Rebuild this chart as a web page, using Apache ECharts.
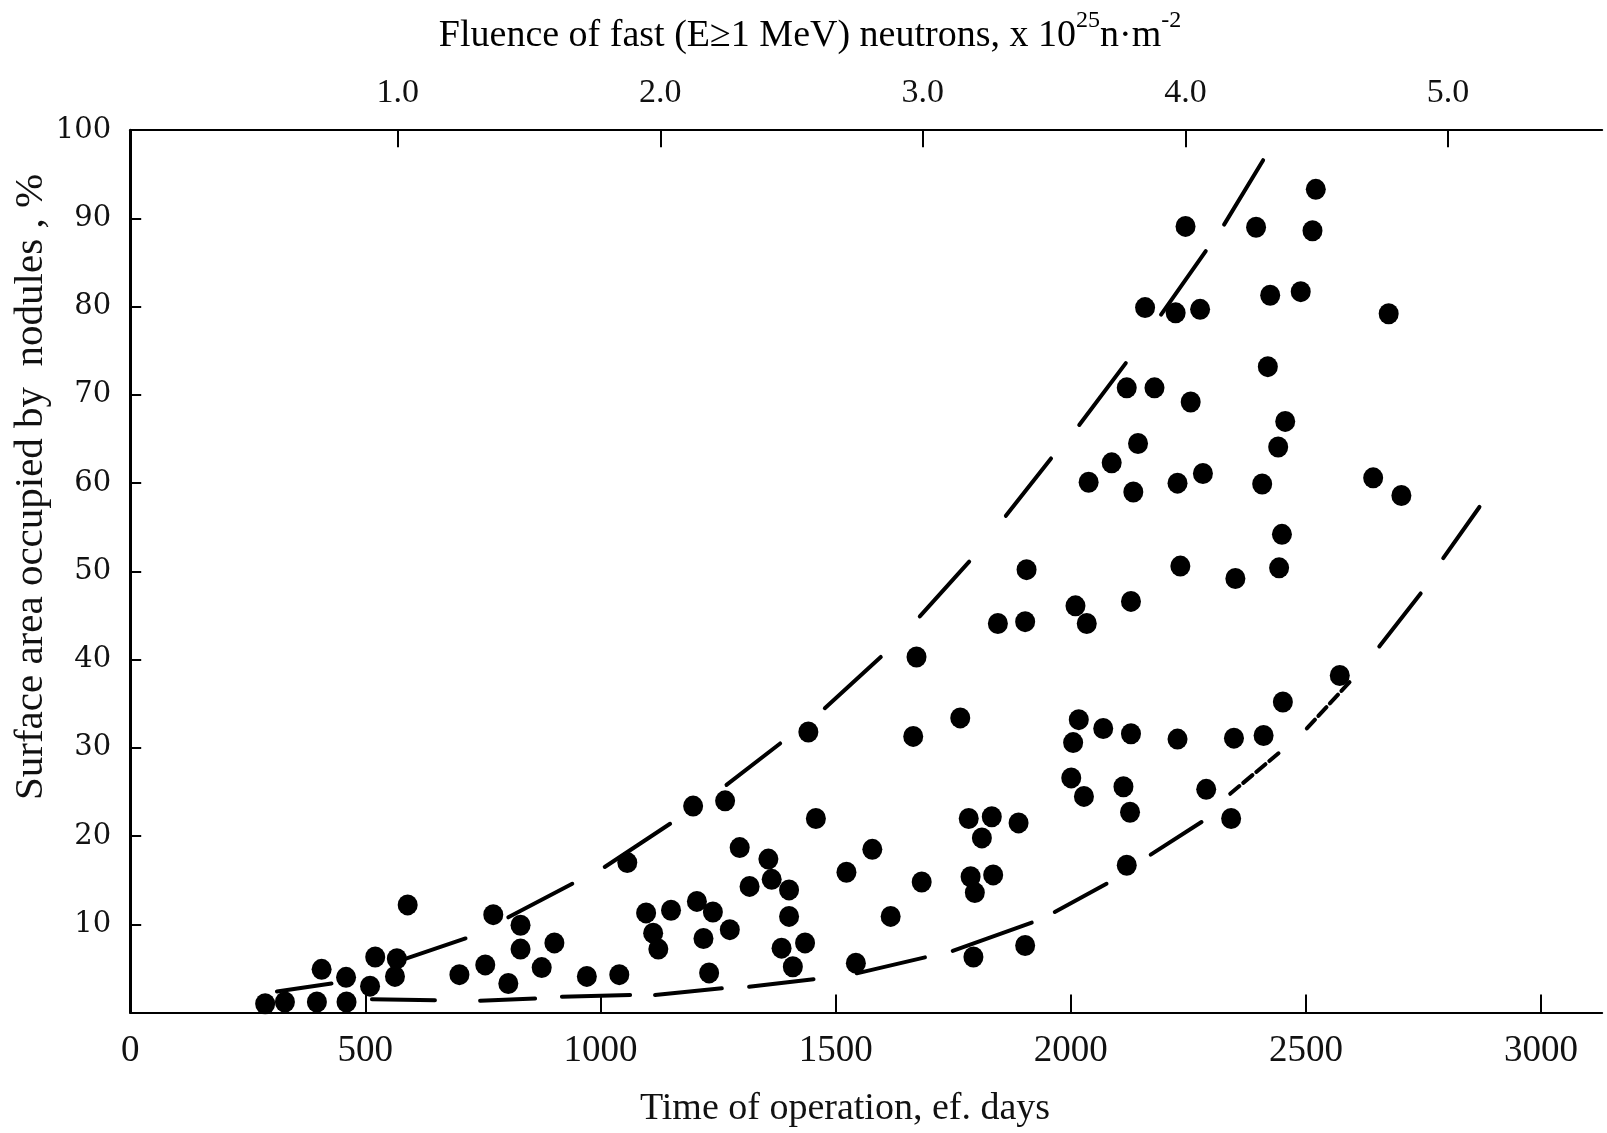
<!DOCTYPE html>
<html>
<head>
<meta charset="utf-8">
<script src="https://cdn.jsdelivr.net/npm/echarts@6/dist/echarts.min.js"></script>
<style>
  html, body { margin: 0; padding: 0; background: #ffffff; }
  #chart { width: 1607px; height: 1133px; }
</style>
</head>
<body>
<div id="chart"></div>
<script>
// Surface area occupied by nodules vs. effective days of operation
// (top scale: fast-neutron fluence).

const dayTicks = [0, 500, 1000, 1500, 2000, 2500, 3000];
const fluenceTicks = [1, 2, 3, 4, 5];
const coverageTicks = [10, 20, 30, 40, 50, 60, 70, 80, 90, 100];

// Measured points: effective days and nodule coverage, %
const opDays = [
  287, 329, 397, 407, 459, 460, 510, 521, 563, 567, 590,
  700, 755, 772, 804, 830, 830, 875, 902, 971, 1040,
  1057, 1097, 1112, 1123, 1150, 1197, 1205, 1219, 1231, 1239, 1265, 1275,
  1296, 1317, 1357, 1364, 1385, 1401, 1401, 1409, 1435, 1442, 1458,
  1523, 1543, 1578, 1617, 1665, 1672, 1683, 1765, 1783, 1787, 1796, 1793,
  1811, 1832, 1835, 1845, 1889, 1903, 1903, 1906,
  2001, 2005, 2010, 2017, 2028, 2034, 2038, 2069, 2087, 2112, 2119, 2119,
  2126, 2128, 2128, 2133, 2143, 2158, 2178, 2223, 2227, 2227, 2233, 2244,
  2255, 2275, 2281, 2288, 2341, 2347, 2350, 2394, 2407, 2410, 2419, 2424,
  2441, 2443, 2449, 2451, 2456, 2489, 2514, 2521, 2572, 2643, 2676, 2703
];
const nodulePct = [
  1.0, 1.2, 1.2, 4.9, 4.0, 1.2, 3.0, 6.3, 4.1, 6.1, 12.2,
  4.3, 5.4, 11.1, 3.3, 9.9, 7.2, 5.1, 7.9, 4.1, 4.3,
  17.0, 11.3, 9.0, 7.2, 11.6, 23.4, 12.6, 8.4, 4.5, 11.4, 24.0, 9.4,
  18.7, 14.3, 17.4, 15.1, 7.3, 13.9, 10.9, 5.2, 7.9, 31.8, 22.0,
  15.9, 5.6, 18.5, 10.9, 31.3, 40.3, 14.8, 33.4, 22.0, 15.4, 13.6, 6.3,
  19.8, 22.2, 15.6, 44.1, 21.5, 7.6, 44.3, 50.2,
  26.6, 30.6, 46.1, 33.2, 24.5, 44.1, 60.1, 32.2, 62.3, 25.6, 70.8, 16.7,
  22.7, 31.6, 46.6, 59.0, 64.5, 79.9, 70.8, 79.3, 31.0, 60.0, 50.6, 89.1,
  69.2, 79.7, 61.1, 25.3, 22.0, 31.1, 49.2, 89.0, 59.9, 31.4, 73.2, 81.3,
  64.1, 50.4, 54.2, 35.2, 67.0, 81.7, 88.6, 93.3, 38.2, 60.6, 79.2, 58.6
];

// Envelope curves, drawn as long dashes: [dayStart, pctStart, dayEnd, pctEnd]
const upperDashes = [
  [312, 2.4, 428, 3.3], [580, 6.0, 713, 8.4], [804, 10.8, 940, 14.6],
  [1009, 16.5, 1148, 21.4], [1268, 25.8, 1382, 30.5], [1477, 34.5, 1596, 40.3],
  [1679, 44.9, 1784, 51.1], [1862, 56.3, 1958, 62.8], [2018, 66.6, 2117, 73.6],
  [2192, 79.1, 2287, 86.3], [2326, 89.3, 2409, 96.6]
];
const lowerDashes = [
  [514, 1.5, 648, 1.4], [744, 1.35, 861, 1.6], [918, 1.8, 1063, 2.0],
  [1116, 2.0, 1258, 2.75], [1316, 2.93, 1453, 3.77], [1545, 4.45, 1690, 6.26],
  [1749, 7.0, 1917, 10.2], [1966, 11.4, 2076, 14.6], [2170, 17.9, 2278, 21.6],
  [2656, 41.5, 2744, 47.5], [2792, 51.5, 2869, 57.3]
];
// the two pieces of the lower curve that are printed as broken strokes
const lowerBrokenDashes = [
  [2339, 24.8, 2442, 29.4], [2502, 32.2, 2597, 37.7]
];

const serif = 'Liberation Serif';
const ink = '#111111';

function dashSeries(seg, lineType, width) {
  return {
    type: 'line',
    xAxisIndex: 0,
    yAxisIndex: 0,
    data: [[seg[0], seg[1]], [seg[2], seg[3]]],
    symbol: 'none',
    silent: true,
    animation: false,
    z: 2,
    lineStyle: { color: '#000', width: width, type: lineType, cap: 'round', opacity: 1 }
  };
}

const series = [];
upperDashes.forEach(s => series.push(dashSeries(s, 'solid', 4)));
lowerDashes.forEach(s => series.push(dashSeries(s, 'solid', 4)));
lowerBrokenDashes.forEach(s => series.push(dashSeries(s, [12, 5], 4)));
series.push({
  type: 'scatter',
  xAxisIndex: 0,
  yAxisIndex: 0,
  data: opDays.map((d, i) => [d, nodulePct[i]]),
  symbol: 'circle',
  symbolSize: [20, 21],
  itemStyle: { color: '#000', opacity: 1 },
  silent: true,
  animation: false,
  z: 3
});

const chart = echarts.init(document.getElementById('chart'), null, { renderer: 'canvas' });
chart.setOption({
  backgroundColor: '#ffffff',
  animation: false,
  grid: { left: 130.2, right: 4.8, top: 130.2, bottom: 120.4, containLabel: false },
  xAxis: [
    {
      type: 'value',
      position: 'bottom',
      min: 0,
      max: 3130,
      axisLine: { show: true, onZero: false, lineStyle: { color: '#000', width: 2 } },
      axisTick: {
        show: true, inside: true, length: 18,
        customValues: dayTicks.slice(1),
        lineStyle: { color: '#000', width: 2 }
      },
      axisLabel: {
        customValues: dayTicks,
        formatter: v => String(v),
        margin: 20,
        fontFamily: serif,
        fontSize: 37,
        color: ink
      },
      splitLine: { show: false }
    },
    {
      type: 'value',
      position: 'top',
      min: -0.0186,
      max: 5.587,
      axisLine: { show: true, onZero: false, lineStyle: { color: '#000', width: 2 } },
      axisTick: {
        show: true, inside: true, length: 17,
        customValues: fluenceTicks,
        lineStyle: { color: '#000', width: 2 }
      },
      axisLabel: {
        customValues: fluenceTicks,
        formatter: v => Number(v).toFixed(1),
        margin: 20,
        fontFamily: serif,
        fontSize: 34,
        color: ink
      },
      splitLine: { show: false }
    }
  ],
  yAxis: {
    type: 'value',
    min: 0,
    max: 100,
    interval: 10,
    axisLine: { show: true, onZero: false, lineStyle: { color: '#000', width: 3 } },
    axisTick: { show: true, inside: true, length: 11, lineStyle: { color: '#000', width: 2 } },
    axisLabel: {
      showMinLabel: false,
      formatter: v => (coverageTicks.indexOf(v) >= 0 ? String(v) : ''),
      margin: 19,
      fontFamily: 'DejaVu Serif',
      fontSize: 29,
      color: ink
    },
    splitLine: { show: false }
  },
  graphic: [
    {
      type: 'text',
      x: 810, y: 36,
      style: {
        text: '{m|Fluence of fast (E≥1 MeV) neutrons, x 10}{s|25}{m|n·m}{s|-2}',
        align: 'center',
        verticalAlign: 'middle',
        rich: {
          m: { fontFamily: serif, fontSize: 38, lineHeight: 54, color: ink, verticalAlign: 'middle' },
          s: { fontFamily: serif, fontSize: 24, lineHeight: 24, color: ink, verticalAlign: 'top' }
        }
      }
    },
    {
      type: 'text',
      x: 845, y: 1109,
      style: {
        text: 'Time of operation, ef. days',
        fontFamily: serif, fontSize: 38, fill: ink,
        align: 'center', verticalAlign: 'middle'
      }
    },
    {
      type: 'text',
      x: 31, y: 487,
      rotation: Math.PI / 2,
      style: {
        text: 'Surface area occupied by  nodules , %',
        fontFamily: serif, fontSize: 41, fill: ink,
        align: 'center', verticalAlign: 'middle'
      }
    }
  ],
  series: series
});
</script>
</body>
</html>
